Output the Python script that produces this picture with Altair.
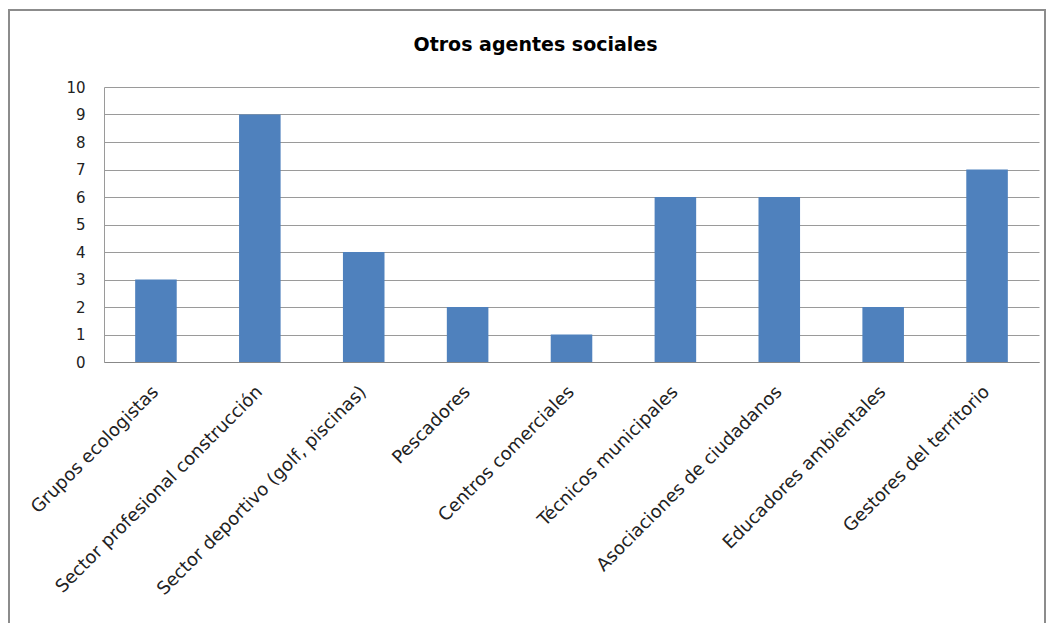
import altair as alt
import pandas as pd

categories = [
    "Grupos ecologistas",
    "Sector profesional construcción",
    "Sector deportivo (golf, piscinas)",
    "Pescadores",
    "Centros comerciales",
    "Técnicos municipales",
    "Asociaciones de ciudadanos",
    "Educadores ambientales",
    "Gestores del territorio",
]
values = [3, 9, 4, 2, 1, 6, 6, 2, 7]
y_ticks = list(range(0, 11))

df = pd.DataFrame({"cat": categories, "val": values})

FONT = "DejaVu Sans"

bars = alt.Chart(df).mark_bar(color="#4F81BD").encode(
    x=alt.X(
        "cat:N",
        sort=categories,
        title=None,
        scale=alt.Scale(paddingInner=0.6, paddingOuter=0.3),
        axis=alt.Axis(
            labelAngle=-45,
            labelAlign="right",
            labelBaseline="middle",
            labelPadding=27,
            labelFontSize=18,
            labelFont=FONT,
            labelColor="#222222",
            ticks=False,
            domainColor="#888888",
            labelLimit=400,
        ),
    ),
    y=alt.Y(
        "val:Q",
        title=None,
        scale=alt.Scale(domain=[0, 10], nice=False),
        axis=alt.Axis(
            values=y_ticks,
            grid=True,
            gridColor="#9a9a9a",
            ticks=False,
            domainColor="#9a9a9a",
            labelPadding=19,
            labelFontSize=15,
            labelFont=FONT,
            labelColor="#222222",
        ),
    ),
)

border = alt.Chart(df).mark_rect(
    fill=None, stroke="#8c8c8c", strokeWidth=2, clip=False
).encode(
    x=alt.value(-95), x2=alt.value(941), y=alt.value(-77), y2=alt.value(560)
)

chart = alt.layer(border, bars).properties(
    width=935,
    height=275,
    title=alt.TitleParams(
        "Otros agentes sociales",
        font=FONT,
        fontSize=19,
        fontWeight="bold",
        color="#000000",
        anchor="middle",
        dx=-36,
        offset=-46,
    ),
    autosize=alt.AutoSizeParams(type="none"),
    padding={"left": 104, "top": 87, "right": 14, "bottom": 261},
).configure_view(stroke=None)

chart.save("out.html", embed_options={"renderer": "svg", "actions": False})
